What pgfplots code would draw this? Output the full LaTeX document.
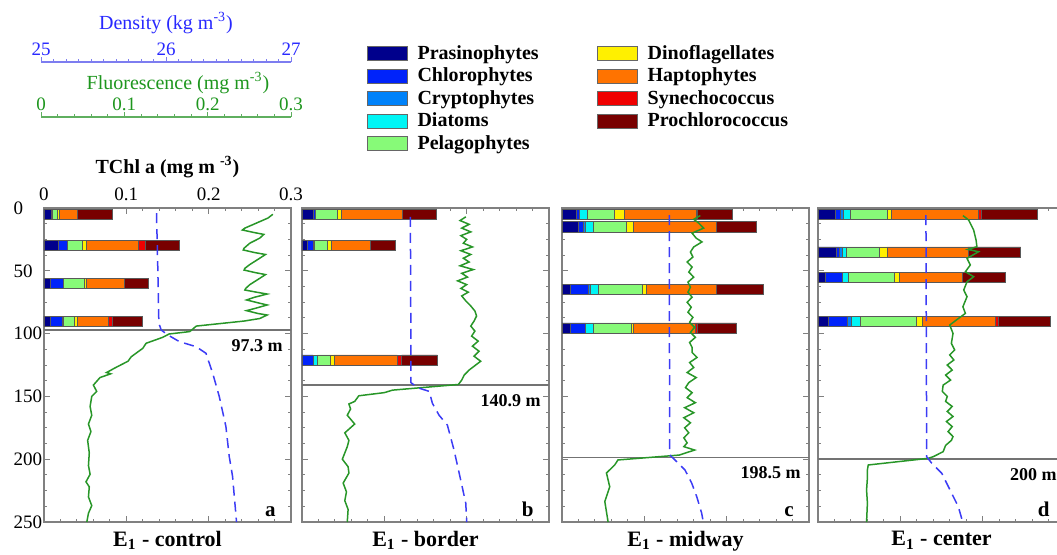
\documentclass[border=0pt]{standalone}
\usepackage{fontspec}
\setmainfont{Liberation Serif}
\usepackage{pgfplots}
\pgfplotsset{compat=1.18}
\usepackage{pgfplotstable}

\definecolor{cPra}{RGB}{0,0,140}
\definecolor{cChl}{RGB}{0,35,250}
\definecolor{cCry}{RGB}{0,130,250}
\definecolor{cDia}{RGB}{0,245,245}
\definecolor{cPel}{RGB}{135,250,120}
\definecolor{cDin}{RGB}{255,240,0}
\definecolor{cHap}{RGB}{255,115,0}
\definecolor{cSyn}{RGB}{240,0,0}
\definecolor{cPro}{RGB}{120,0,0}
\definecolor{cDen}{RGB}{40,40,255}
\definecolor{cDenLn}{RGB}{60,60,245}
\definecolor{cDenAx}{RGB}{125,125,240}
\definecolor{cFl}{RGB}{30,150,30}
\definecolor{cFlLn}{RGB}{40,150,40}
\definecolor{cFlAx}{RGB}{95,175,95}

% pigment TChl a contributions (mg m^-3) at each sampled depth
\pgfplotstableread{
depth pra    chl    cry   dia    pel    din   hap   syn   pro
5     0.009  0.001  0     0      0.006  0.003 0.021 0     0.043
30    0.018  0.010  0     0      0.019  0.005 0.063 0.008 0.042
60    0.008  0.016  0     0      0.025  0.002 0.046 0     0.030
90    0.008  0.014  0     0.0015 0.013  0.004 0.038 0.004 0.037
}\barsA
\pgfplotstableread{
depth pra    chl    cry   dia    pel    din   hap   syn   pro
5     0.0134 0.003  0     0      0.027  0.005 0.073 0     0.042
30    0.0065 0.007  0.002 0      0.0155 0.005 0.047 0     0.030
121   0      0.0134 0     0.005  0.0155 0.005 0.077 0.005 0.0435
}\barsB
\pgfplotstableread{
depth pra    chl    cry   dia    pel    din   hap   syn   pro
5     0.0175 0.004  0     0.0093 0.033  0.012 0.087 0.002 0.042
15    0.020  0.0065 0.002 0.0098 0.040  0.008 0.101 0     0.049
65    0.0106 0.022  0.002 0.0098 0.053  0.005 0.085 0     0.057
95.5  0.0106 0.018  0     0.0093 0.046  0.003 0.075 0.003 0.047
}\barsC
\pgfplotstableread{
depth pra    chl    cry   dia    pel    din   hap   syn   pro
5     0.0215 0.0057 0.003 0.009  0.0447 0.005 0.106 0.004 0.067
35    0.022  0.004  0.004 0.005  0.039  0.010 0.098 0     0.064
55    0.009  0.021  0     0.007  0.056  0.006 0.076 0     0.052
90    0.012  0.024  0.005 0.011  0.068  0.007 0.088 0.004 0.063
}\barsD

\newcommand{\stackbars}[1]{%
  \addplot[fill=cPra] table[x=pra,y=depth]{#1};
  \addplot[fill=cChl] table[x=chl,y=depth]{#1};
  \addplot[fill=cCry] table[x=cry,y=depth]{#1};
  \addplot[fill=cDia] table[x=dia,y=depth]{#1};
  \addplot[fill=cPel] table[x=pel,y=depth]{#1};
  \addplot[fill=cDin] table[x=din,y=depth]{#1};
  \addplot[fill=cHap] table[x=hap,y=depth]{#1};
  \addplot[fill=cSyn] table[x=syn,y=depth]{#1};
  \addplot[fill=cPro] table[x=pro,y=depth]{#1};
}

\tikzset{
  fl/.style={cFlLn, line width=0.75pt},
  rho/.style={cDenLn, line width=0.75pt, dash pattern=on 5pt off 3pt},
  mld/.style={black!55, line width=0.8pt},
  mldlab/.style={anchor=north east, inner sep=0pt, xshift=-4pt, yshift=-4.5pt,
    font=\bfseries\fontsize{9}{10}\selectfont},
  plab/.style={anchor=south east, inner sep=0pt, xshift=-7.5pt, yshift=2.7pt,
    font=\bfseries\fontsize{10.5}{12}\selectfont},
  ptitle/.style={anchor=north, inner sep=0pt, yshift=-4.5pt,
    font=\bfseries\fontsize{11}{13}\selectfont},
}

\pgfplotsset{
  /pgf/number format/assume math mode=true,
  tick label style={font=\fontsize{9.5}{11}\selectfont},
  base/.style={scale only axis, width=123.5pt, height=157pt, anchor=south west,
    ymin=0, ymax=250, y dir=reverse, clip=false},
  bars/.style={base, xmin=0, xmax=0.3, xbar stacked, bar width=8,
    xtick={0,0.1,0.2,0.3}, minor x tick num=4,
    ytick={0,50,...,250}, minor y tick num=3,
    xtick pos=both, ytick pos=both,
    tick align=inside, major tick length=3pt, minor tick length=1.6pt,
    axis line style={black!50, line width=0.8pt},
    tick style={black!50, line width=0.5pt},
    xticklabels={}, yticklabels={},
    every axis plot/.append style={draw=black!65, line width=0.35pt}},
  lines/.style={base, xmin=0, xmax=0.3, hide axis},
  dens/.style={base, xmin=25, xmax=27, hide axis},
  scalebar/.style={scale only axis, width=125pt, height=1pt, anchor=north west,
    ymin=0, ymax=1, axis x line=top, axis y line=none, clip=false,
    tick align=outside, major tick length=2.5pt, minor tick length=1.3pt,
    xticklabel style={yshift=-3pt}},
}

\begin{document}
\begin{tikzpicture}

% ---------- top-left scales ----------
\begin{axis}[scalebar, at={(20.5pt,246pt)}, xmin=25, xmax=27,
  xtick={25,26,27}, minor x tick num=9,
  axis line style={-, cDenAx, line width=0.7pt}, tick style={cDenAx},
  xticklabel style={cDen}]
  \node[cDen, anchor=base, font=\fontsize{10}{12}\selectfont, yshift=16.5pt]
    at (axis description cs:0.5,1) {Density (kg m\textsuperscript{-3})};
\end{axis}
\begin{axis}[scalebar, at={(20.5pt,218.5pt)}, xmin=0, xmax=0.3,
  xtick={0,0.1,0.2,0.3}, minor x tick num=4,
  axis line style={-, cFlAx, line width=0.7pt}, tick style={cFlAx},
  xticklabel style={cFl}]
  \node[cFl, anchor=base, font=\fontsize{10}{12}\selectfont, yshift=14pt, xshift=6pt]
    at (axis description cs:0.5,1) {Fluorescence (mg m\textsuperscript{-3})};
\end{axis}

% ---------- panel a ----------
\begin{axis}[bars, at={(22pt,16pt)},
  xticklabel pos=top, xticklabels={0,0.1,0.2,0.3},
  yticklabels={0,50,100,150,200,250},
  yticklabel style={text width=14pt, align=left, inner sep=1pt},
  legend style={at={(1.28,1.545)}, anchor=north west, draw=none, fill=none,
    font=\bfseries\fontsize{10}{11}\selectfont, legend columns=5,
    row sep=-1.2pt, legend cell align=left,
    /tikz/every odd column/.append style={column sep=3pt},
    /tikz/every even column/.append style={column sep=27pt}},
  transpose legend,
  legend image code/.code={\draw[#1, draw=black!60, line width=0.5pt] (0pt,-3.5pt) rectangle (20pt,3.5pt);}]
  \stackbars{\barsA}
  \legend{Prasinophytes,Chlorophytes,Cryptophytes,Diatoms,Pelagophytes,
    Dinoflagellates,Haptophytes,Synechococcus,Prochlorococcus}
  \node[font=\bfseries\fontsize{10}{12}\selectfont, yshift=20.5pt]
    at (axis description cs:0.5,1) {TChl a (mg m \textsuperscript{-3})};
  \node[ptitle] at (axis description cs:0.5,0) {E\textsubscript{1} - control};
  \node[plab] at (axis description cs:1,0) {a};
\end{axis}
\begin{axis}[lines, at={(22pt,16pt)}]
  \addplot[mld] coordinates {(0,97.3) (0.3,97.3)};
  \addplot[fl] coordinates {
    (0.278,5) (0.272,8) (0.258,12) (0.244,16) (0.241,17.5) (0.255,19.5) (0.267,21)
    (0.262,24) (0.250,28) (0.243,32) (0.242,33.4) (0.256,35.5) (0.269,37) (0.262,40)
    (0.250,45) (0.244,48) (0.243,49.4) (0.257,51.5) (0.269,53) (0.262,56) (0.250,61)
    (0.245,64) (0.244,65.3) (0.258,67) (0.271,68.5) (0.256,71) (0.246,73.2) (0.260,75.5)
    (0.271,77.2) (0.256,80) (0.246,81.7) (0.260,84) (0.271,85.2) (0.262,88) (0.243,90)
    (0.185,94) (0.177,98.4) (0.152,100.3) (0.144,103) (0.124,107.7) (0.120,111.7)
    (0.106,118.4) (0.102,122) (0.086,127.4) (0.076,131) (0.081,132) (0.068,135)
    (0.060,141) (0.064,146) (0.058,150) (0.056,158) (0.058,165) (0.054,172) (0.057,178)
    (0.053,185) (0.055,195) (0.054,205) (0.056,212) (0.051,218) (0.055,222) (0.054,230)
    (0.058,237) (0.054,243) (0.052,250)};
  \node[mldlab] at (axis cs:0.3,97.3) {97.3 m};
\end{axis}
\begin{axis}[dens, at={(22pt,16pt)}]
  \addplot[rho] coordinates {
    (25.911,4) (25.922,50) (25.930,91.8) (25.949,97.1) (26.003,101.1) (26.097,106.4)
    (26.231,110.4) (26.312,115.7) (26.325,119.7) (26.366,131.6) (26.419,150)
    (26.473,174) (26.500,197.9) (26.527,213.8) (26.559,250)};
\end{axis}

% ---------- panel b ----------
\begin{axis}[bars, at={(151pt,16pt)}]
  \stackbars{\barsB}
  \node[ptitle] at (axis description cs:0.5,0) {E\textsubscript{1} - border};
  \node[plab] at (axis description cs:1,0) {b};
\end{axis}
\begin{axis}[lines, at={(151pt,16pt)}]
  \addplot[mld] coordinates {(0,140.9) (0.3,140.9)};
  \addplot[fl] coordinates {
    (0.199,7) (0.192,10) (0.203,13) (0.194,16) (0.205,19) (0.193,22) (0.200,25)
    (0.196,28) (0.207,31) (0.193,34) (0.205,37) (0.196,40) (0.203,43) (0.192,46)
    (0.208,49) (0.194,52) (0.201,55) (0.189,58) (0.200,61) (0.193,64) (0.202,67)
    (0.194,70) (0.199,74) (0.205,78) (0.210,82) (0.212,86) (0.209,90) (0.205,94)
    (0.210,98) (0.206,102) (0.214,106) (0.207,110) (0.215,114) (0.209,118) (0.217,122)
    (0.211,125) (0.203,129) (0.197,133) (0.194,137) (0.190,140.5) (0.110,145)
    (0.100,147) (0.069,149.5) (0.064,154) (0.057,156) (0.059,160) (0.055,165)
    (0.064,172) (0.052,179) (0.057,185) (0.055,190) (0.049,200) (0.056,206)
    (0.057,211) (0.050,219) (0.054,226) (0.052,233) (0.056,240) (0.055,250)};
  \node[mldlab] at (axis cs:0.3,140.9) {140.9 m};
\end{axis}
\begin{axis}[dens, at={(151pt,16pt)}]
  \addplot[rho] coordinates {
    (25.877,7) (25.880,60) (25.882,139) (25.923,142) (25.935,143) (26.030,146)
    (26.056,155.5) (26.110,165) (26.177,172.8) (26.231,192.7) (26.285,216.6)
    (26.326,235) (26.334,250)};
\end{axis}

% ---------- panel c ----------
\begin{axis}[bars, at={(281pt,16pt)}]
  \stackbars{\barsC}
  \node[ptitle] at (axis description cs:0.5,0) {E\textsubscript{1} - midway};
  \node[plab] at (axis description cs:1,0) {c};
\end{axis}
\begin{axis}[lines, at={(281pt,16pt)}]
  \addplot[mld] coordinates {(0,198.5) (0.3,198.5)};
  \addplot[fl] coordinates {
    (0.168,6) (0.160,9) (0.166,12) (0.172,16) (0.158,20) (0.163,24) (0.170,27)
    (0.160,31) (0.156,35) (0.159,39) (0.152,43) (0.158,47) (0.154,51) (0.160,55)
    (0.153,59) (0.156,63) (0.153,67) (0.158,71) (0.152,75) (0.157,79) (0.153,83)
    (0.159,87) (0.155,91) (0.161,95) (0.156,99) (0.162,103) (0.155,107) (0.158,111)
    (0.158,115) (0.164,119) (0.155,123) (0.160,127) (0.152,131) (0.163,135)
    (0.154,139) (0.150,143) (0.158,147) (0.152,151) (0.162,155) (0.149,159)
    (0.160,163) (0.148,167) (0.156,171) (0.149,175) (0.154,179) (0.148,183)
    (0.152,187) (0.148,190) (0.161,192.7) (0.1425,196.7) (0.068,200.6) (0.064,204.6)
    (0.054,211) (0.058,222) (0.052,233.7) (0.056,250)};
  \node[mldlab] at (axis cs:0.3,198.5) {198.5 m};
\end{axis}
\begin{axis}[dens, at={(281pt,16pt)}]
  \addplot[rho] coordinates {
    (25.869,5.6) (25.870,100) (25.872,196.6) (25.915,200.6) (25.996,208.6)
    (26.050,219) (26.091,229.8) (26.131,243) (26.144,250)};
\end{axis}

% ---------- panel d ----------
\begin{axis}[bars, at={(409pt,16pt)}]
  \stackbars{\barsD}
  \node[ptitle] at (axis description cs:0.5,0) {E\textsubscript{1} - center};
  \node[plab] at (axis description cs:1,0) {d};
\end{axis}
\begin{axis}[lines, at={(409pt,16pt)}]
  \addplot[mld] coordinates {(0,200) (0.3,200)};
  \addplot[fl] coordinates {
    (0.176,6) (0.183,9.6) (0.189,17.5) (0.192,25.5) (0.193,30.8) (0.182,33)
    (0.195,34.8) (0.181,40.1) (0.185,45.4) (0.179,50.7) (0.189,54.7) (0.181,58.7)
    (0.177,65.3) (0.181,70.6) (0.176,78.6) (0.179,83.9) (0.168,89.2) (0.160,93.2)
    (0.164,99.8) (0.162,107.8) (0.166,113) (0.160,117) (0.165,121) (0.157,125)
    (0.163,129) (0.155,133) (0.161,137) (0.152,141) (0.151,146) (0.157,150)
    (0.155,154) (0.163,158) (0.157,162) (0.164,166) (0.156,170) (0.163,174)
    (0.158,178) (0.164,182) (0.162,185) (0.155,189) (0.152,194) (0.140,198)
    (0.134,199.3) (0.061,204.6) (0.060,208.6) (0.060,215) (0.059,224.5)
    (0.060,235) (0.059,250)};
  \node[mldlab] at (axis cs:0.3,200) {200 m};
\end{axis}
\begin{axis}[dens, at={(409pt,16pt)}]
  \addplot[rho] coordinates {
    (25.874,5.6) (25.877,100) (25.880,198) (25.921,203.2) (26.002,211.2)
    (26.069,224.5) (26.136,237.8) (26.163,247) (26.170,250)};
\end{axis}

\pgfresetboundingbox
\path[use as bounding box] (0,0) rectangle (528.5pt,277pt);
\end{tikzpicture}
\end{document}
